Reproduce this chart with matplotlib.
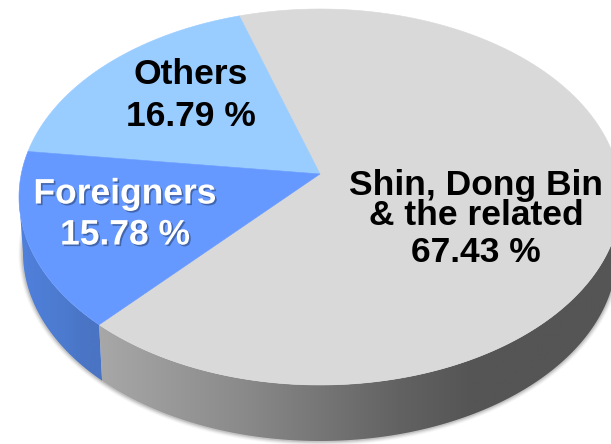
import numpy as np
import matplotlib
matplotlib.use("Agg")
import matplotlib.pyplot as plt
import matplotlib.patheffects as pe
from matplotlib.colors import LinearSegmentedColormap
from matplotlib.patches import Polygon

# Data (in the order the slices run round the pie)
categories = ["Shin, Dong Bin\n& the related", "Others", "Foreigners"]
shares = [67.43, 16.79, 15.78]

# Style
top_colors = ["#d9d9d9", "#99ccff", "#6699ff"]
wall_ramps = [
    ["#a8a8a8", "#8a8a8a", "#626262", "#555555", "#555555"],
    ["#99ccff"] * 5,
    ["#4f80dc", "#4c7ace", "#4a74c4", "#4a74c4", "#4a74c4"],
]
START = 222.8
APEX = (320, 174)
TOP = dict(cx=320, cy=197, a=301, b=188)
BOT = dict(cx=320, cy=253, a=297, b=188)

fig = plt.figure(figsize=(6.11, 4.44), dpi=100)
ax = fig.add_axes([0, 0, 1, 1])
ax.set_axis_off()


def arc(e, t1, t2, n=160):
    t = np.radians(np.linspace(t1, t2, n))
    return np.column_stack([e["cx"] + e["a"] * np.cos(t), e["cy"] - e["b"] * np.sin(t)])


# Soft shadow round the lower rim
rim = arc(BOT, 165, 375, 300)
for lw, al in [(9, .05), (7, .07), (5, .10), (3, .16)]:
    ax.plot(rim[:, 0], rim[:, 1], color="#555555", lw=lw * .72, alpha=al,
            solid_capstyle="round", zorder=1)

# Slices
angles = np.cumsum([0] + [s / sum(shares) * 360 for s in shares]) + START
for i, (t1, t2) in enumerate(zip(angles[:-1], angles[1:])):
    # side wall (only the part that faces the viewer)
    for lo, hi in [(180, 360), (540, 720)]:
        a, b = max(t1, lo), min(t2, hi)
        if a >= b:
            continue
        poly = np.vstack([arc(TOP, a, b), arc(BOT, b, a)])
        patch = Polygon(poly, closed=True, transform=ax.transData, fc="none", ec="none")
        ax.add_patch(patch)
        stops = [0, .28, .58, .72, 1] if i == 0 else [0, .5, .75, .9, 1]
        cmap = LinearSegmentedColormap.from_list("wall", list(zip(stops, wall_ramps[i])))
        x0, x1 = (97, 611) if i == 0 else (19, 103)
        im = ax.imshow(np.linspace(0, 1, 256)[None, :], cmap=cmap, vmin=0, vmax=1,
                       extent=(x0, x1 + 8, 460, 150), aspect="auto", zorder=2)
        im.set_clip_path(patch)
    # top face
    top = np.vstack([[APEX], arc(TOP, t1, t2, 240)])
    ax.fill(top[:, 0], top[:, 1], color=top_colors[i], lw=0.4, zorder=3)

ax.set_xlim(0, 611)
ax.set_ylim(444, 0)

# Labels
font = dict(family="Liberation Sans", weight="bold", ha="center", va="center", zorder=5)
SIZE = 25.5
ax.text(476, 200.5, categories[0], color="black", fontsize=SIZE, linespacing=.92, **font)
ax.text(476, 252, f"{shares[0]} %", color="black", fontsize=SIZE, **font)
ax.text(191, 74, categories[1], color="black", fontsize=SIZE, **font)
ax.text(191, 116, f"{shares[1]} %", color="black", fontsize=SIZE, **font)
shadow = [pe.SimplePatchShadow(offset=(1.2, -1.2), shadow_rgbFace="#3a5a99", alpha=.8), pe.Normal()]
ax.text(125, 194, categories[2], color="white", fontsize=SIZE, path_effects=shadow, **font)
ax.text(125, 235, f"{shares[2]} %", color="white", fontsize=SIZE, path_effects=shadow, **font)

fig.savefig("out.png", dpi=100, facecolor="white")
